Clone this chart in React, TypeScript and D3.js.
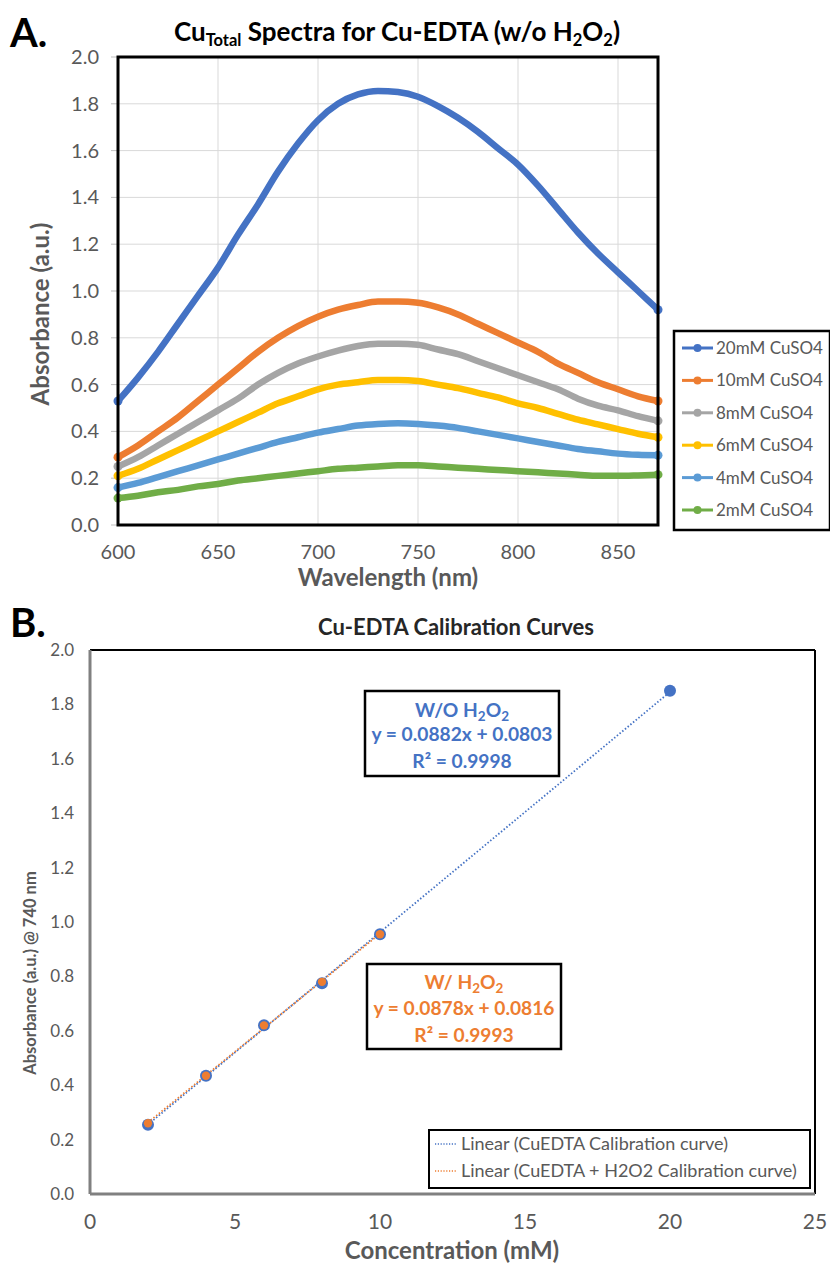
import React from "react";
import * as d3 from "d3";

// ---- panel A data (absorbance vs wavelength) ----
const wavelengths = [600, 610, 620, 630, 640, 650, 660, 670, 680, 690, 700, 710, 720, 730, 740, 750, 760, 770, 780, 790, 800, 810, 820, 830, 840, 850, 860, 870];
const abs20mM = [0.53, 0.63, 0.74, 0.86, 0.98, 1.1, 1.24, 1.37, 1.51, 1.63, 1.73, 1.8, 1.84, 1.855, 1.85, 1.83, 1.79, 1.74, 1.68, 1.61, 1.54, 1.45, 1.35, 1.25, 1.16, 1.08, 1.0, 0.92];
const abs10mM = [0.29, 0.34, 0.4, 0.46, 0.53, 0.6, 0.67, 0.74, 0.8, 0.85, 0.89, 0.92, 0.94, 0.955, 0.955, 0.95, 0.93, 0.9, 0.86, 0.82, 0.78, 0.74, 0.69, 0.65, 0.61, 0.58, 0.55, 0.53];
const abs8mM = [0.25, 0.29, 0.34, 0.39, 0.44, 0.49, 0.54, 0.6, 0.65, 0.69, 0.72, 0.745, 0.765, 0.775, 0.775, 0.77, 0.75, 0.73, 0.7, 0.67, 0.64, 0.61, 0.58, 0.54, 0.51, 0.49, 0.465, 0.445];
const abs6mM = [0.21, 0.24, 0.28, 0.32, 0.36, 0.4, 0.44, 0.48, 0.52, 0.55, 0.58, 0.6, 0.61, 0.62, 0.62, 0.615, 0.6, 0.585, 0.565, 0.545, 0.52, 0.5, 0.475, 0.45, 0.43, 0.41, 0.39, 0.375];
const abs4mM = [0.16, 0.18, 0.205, 0.23, 0.255, 0.28, 0.305, 0.33, 0.355, 0.375, 0.395, 0.41, 0.425, 0.432, 0.435, 0.432, 0.425, 0.415, 0.4, 0.385, 0.37, 0.355, 0.34, 0.325, 0.315, 0.305, 0.3, 0.298];
const abs2mM = [0.115, 0.125, 0.14, 0.15, 0.165, 0.175, 0.19, 0.2, 0.21, 0.22, 0.23, 0.24, 0.245, 0.25, 0.255, 0.255, 0.25, 0.245, 0.24, 0.235, 0.23, 0.225, 0.22, 0.215, 0.21, 0.21, 0.212, 0.215];
const spectraNames = ["20mM CuSO4", "10mM CuSO4", "8mM CuSO4", "6mM CuSO4", "4mM CuSO4", "2mM CuSO4"];
const spectraColors = ["#4472C4", "#ED7D31", "#A5A5A5", "#FFC000", "#5B9BD5", "#70AD47"];
const spectra = [abs20mM, abs10mM, abs8mM, abs6mM, abs4mM, abs2mM];

// ---- panel B data (calibration) ----
const concNoPeroxide = [2, 4, 6, 8, 10, 20];
const absNoPeroxide = [0.255, 0.435, 0.62, 0.775, 0.955, 1.85];
const concWithPeroxide = [2, 4, 6, 8, 10];
const absWithPeroxide = [0.26, 0.435, 0.62, 0.78, 0.955];

// ticks
const absTicks = [0, 0.2, 0.4, 0.6, 0.8, 1.0, 1.2, 1.4, 1.6, 1.8, 2.0];
const wlTicks = [600, 650, 700, 750, 800, 850];
const concTicks = [0, 5, 10, 15, 20, 25];

const FONT = "Lato, 'Open Sans', sans-serif";
const GREY = "#595959";

// least squares fit for the trend lines
function fit(xs: number[], ys: number[]) {
  const mx = d3.mean(xs) as number;
  const my = d3.mean(ys) as number;
  const sxy = d3.sum(xs, (x, i) => (x - mx) * (ys[i] - my));
  const sxx = d3.sum(xs, (x) => (x - mx) * (x - mx));
  const slope = sxy / sxx;
  return { slope, intercept: my - slope * mx };
}

function SpectraPanel() {
  const x = d3.scaleLinear().domain([600, 870]).range([118, 658]);
  const y = d3.scaleLinear().domain([0, 2]).range([525, 57]);
  const line = d3
    .line<number>()
    .x((_, i) => x(wavelengths[i]))
    .y((d) => y(d))
    .curve(d3.curveMonotoneX);

  return (
    <g>
      <text x={10} y={47} fontSize={40} fontWeight="bold" fill="#000" fontFamily={FONT}>A.</text>
      <text x={397} y={41} textAnchor="middle" fontSize={26} fontWeight="bold" fill="#000" fontFamily={FONT}>
        Cu<tspan fontSize={16.5} dy={5}>Total</tspan>
        <tspan dy={-5}> Spectra for Cu-EDTA (w/o H</tspan>
        <tspan fontSize={16.5} dy={5}>2</tspan>
        <tspan dy={-5}>O</tspan>
        <tspan fontSize={16.5} dy={5}>2</tspan>
        <tspan dy={-5}>)</tspan>
      </text>

      {/* gridlines */}
      {absTicks.map((t) => (
        <line key={"h" + t} x1={x(600)} x2={x(870)} y1={y(t)} y2={y(t)} stroke="#D9D9D9" strokeWidth={1} />
      ))}
      {wlTicks.slice(1).map((t) => (
        <line key={"v" + t} x1={x(t)} x2={x(t)} y1={y(0)} y2={y(2)} stroke="#D9D9D9" strokeWidth={1} />
      ))}

      {/* y ticks + labels */}
      {absTicks.map((t) => (
        <g key={"yt" + t}>
          <line x1={x(600) - 7} x2={x(600)} y1={y(t)} y2={y(t)} stroke="#BFBFBF" strokeWidth={1} />
          <text x={99} y={y(t)} dy="0.35em" textAnchor="end" fontSize={20} fill={GREY} fontFamily={FONT}>
            {t.toFixed(1)}
          </text>
        </g>
      ))}
      {wlTicks.map((t) => (
        <text key={"xt" + t} x={x(t)} y={559} textAnchor="middle" fontSize={20} fill={GREY} fontFamily={FONT}>
          {t}
        </text>
      ))}

      {/* series, smallest on top */}
      {spectra
        .slice()
        .reverse()
        .map((s, ri) => {
          const i = spectra.length - 1 - ri;
          const c = spectraColors[i];
          return (
            <g key={spectraNames[i]}>
              <path d={line(s) || ""} fill="none" stroke={c} strokeWidth={6.5} strokeLinecap="round" strokeLinejoin="round" />
              <circle cx={x(wavelengths[0])} cy={y(s[0])} r={4.5} fill={c} />
              <circle cx={x(wavelengths[wavelengths.length - 1])} cy={y(s[s.length - 1])} r={4.5} fill={c} />
            </g>
          );
        })}

      <rect x={118} y={57} width={540} height={468} fill="none" stroke="#000" strokeWidth={3} />

      {/* axis titles */}
      <text transform="translate(49,314) rotate(-90)" textAnchor="middle" fontSize={24} fontWeight="bold" fill={GREY} fontFamily={FONT}>
        Absorbance (a.u.)
      </text>
      <text x={388} y={586} textAnchor="middle" fontSize={24} fontWeight="bold" fill={GREY} fontFamily={FONT}>
        Wavelength (nm)
      </text>

      {/* legend */}
      <rect x={674} y={331} width={156} height={199} fill="#fff" stroke="#000" strokeWidth={2.5} />
      {spectraNames.map((n, i) => {
        const cy = 348 + i * 32.4;
        return (
          <g key={"lg" + n}>
            <line x1={682} x2={713} y1={cy} y2={cy} stroke={spectraColors[i]} strokeWidth={3} />
            <circle cx={697.5} cy={cy} r={4} fill={spectraColors[i]} />
            <text x={716} y={cy} dy="0.35em" fontSize={17} fill={GREY} fontFamily={FONT}>{n}</text>
          </g>
        );
      })}
    </g>
  );
}

function CalibrationPanel() {
  const x = d3.scaleLinear().domain([0, 25]).range([90, 815]);
  const y = d3.scaleLinear().domain([0, 2]).range([1194, 650]);
  const f1 = fit(concNoPeroxide, absNoPeroxide);
  const f2 = fit(concWithPeroxide, absWithPeroxide);
  const x1a = d3.min(concNoPeroxide) as number;
  const x1b = d3.max(concNoPeroxide) as number;
  const x2a = d3.min(concWithPeroxide) as number;
  const x2b = d3.max(concWithPeroxide) as number;

  return (
    <g>
      <text x={10} y={637} fontSize={40} fontWeight="bold" fill="#000" fontFamily={FONT}>B.</text>
      <text x={456} y={635} textAnchor="middle" fontSize={22} fontWeight="bold" fill="#262626" fontFamily={FONT}>
        Cu-EDTA Calibration Curves
      </text>

      {absTicks.map((t) => (
        <text key={"byt" + t} x={74} y={y(t)} dy="0.35em" textAnchor="end" fontSize={17} fill={GREY} fontFamily={FONT}>
          {t.toFixed(1)}
        </text>
      ))}
      {concTicks.map((t) => (
        <text key={"bxt" + t} x={x(t)} y={1229} textAnchor="middle" fontSize={21} fill={GREY} fontFamily={FONT}>
          {t}
        </text>
      ))}

      {/* frame */}
      <line x1={x(0)} x2={x(25)} y1={y(2)} y2={y(2)} stroke="#000" strokeWidth={2} />
      <line x1={x(25)} x2={x(25)} y1={y(2)} y2={y(0)} stroke="#000" strokeWidth={2} />
      <line x1={x(0)} x2={x(0)} y1={y(2)} y2={y(0)} stroke="#808080" strokeWidth={3} />
      <line x1={x(0)} x2={x(25)} y1={y(0)} y2={y(0)} stroke="#808080" strokeWidth={3} />

      {/* trend lines */}
      <line x1={x(x1a)} y1={y(f1.slope * x1a + f1.intercept)} x2={x(x1b)} y2={y(f1.slope * x1b + f1.intercept)}
        stroke="#4472C4" strokeWidth={1.8} strokeDasharray="1.5 2" />
      <line x1={x(x2a)} y1={y(f2.slope * x2a + f2.intercept)} x2={x(x2b)} y2={y(f2.slope * x2b + f2.intercept)}
        stroke="#ED7D31" strokeWidth={1.8} strokeDasharray="1.5 2" />

      {/* points */}
      {concNoPeroxide.map((c, i) => (
        <circle key={"p1" + c} cx={x(c)} cy={y(absNoPeroxide[i])} r={6} fill="#4472C4" />
      ))}
      {concWithPeroxide.map((c, i) => (
        <circle key={"p2" + c} cx={x(c)} cy={y(absWithPeroxide[i])} r={4.2} fill="#ED7D31" />
      ))}

      {/* equation boxes */}
      <rect x={365} y={691} width={194} height={85} fill="#fff" stroke="#000" strokeWidth={2.5} />
      <g fontFamily={FONT} fontWeight="bold" fontSize={19.2} fill="#4472C4" textAnchor="middle">
        <text x={462} y={717}>
          W/O H<tspan fontSize={13.5} dy={4}>2</tspan><tspan dy={-4}>O</tspan><tspan fontSize={13.5} dy={4}>2</tspan>
        </text>
        <text x={462} y={741}>y = 0.0882x + 0.0803</text>
        <text x={462} y={768}>R² = 0.9998</text>
      </g>

      <rect x={367} y={964} width={194} height={85} fill="#fff" stroke="#000" strokeWidth={2.5} />
      <g fontFamily={FONT} fontWeight="bold" fontSize={19.2} fill="#ED7D31" textAnchor="middle">
        <text x={464} y={989}>
          W/ H<tspan fontSize={13.5} dy={4}>2</tspan><tspan dy={-4}>O</tspan><tspan fontSize={13.5} dy={4}>2</tspan>
        </text>
        <text x={464} y={1015}>y = 0.0878x + 0.0816</text>
        <text x={464} y={1042}>R² = 0.9993</text>
      </g>

      {/* legend */}
      <rect x={429} y={1130} width={381} height={58} fill="#fff" stroke="#000" strokeWidth={2} />
      <line x1={435} x2={457} y1={1144} y2={1144} stroke="#4472C4" strokeWidth={1.6} strokeDasharray="1.2 1.6" />
      <text x={461} y={1144} dy="0.35em" fontSize={18} fill={GREY} fontFamily={FONT}>Linear (CuEDTA Calibration curve)</text>
      <line x1={435} x2={457} y1={1171} y2={1171} stroke="#ED7D31" strokeWidth={1.6} strokeDasharray="1.2 1.6" />
      <text x={461} y={1171} dy="0.35em" fontSize={18} fill={GREY} fontFamily={FONT}>Linear (CuEDTA + H2O2 Calibration curve)</text>

      {/* axis titles */}
      <text transform="translate(36,973) rotate(-90)" textAnchor="middle" fontSize={16.5} fontWeight="bold" fill={GREY} fontFamily={FONT}>
        Absorbance (a.u.) @ 740 nm
      </text>
      <text x={452} y={1259} textAnchor="middle" fontSize={24} fontWeight="bold" fill={GREY} fontFamily={FONT}>
        Concentration (mM)
      </text>
    </g>
  );
}

export default function App() {
  return (
    <svg width={830} height={1270} style={{ position: "absolute", left: 0, top: 0, background: "#fff" }}>
      <rect width={830} height={1270} fill="#fff" />
      <SpectraPanel />
      <CalibrationPanel />
    </svg>
  );
}
